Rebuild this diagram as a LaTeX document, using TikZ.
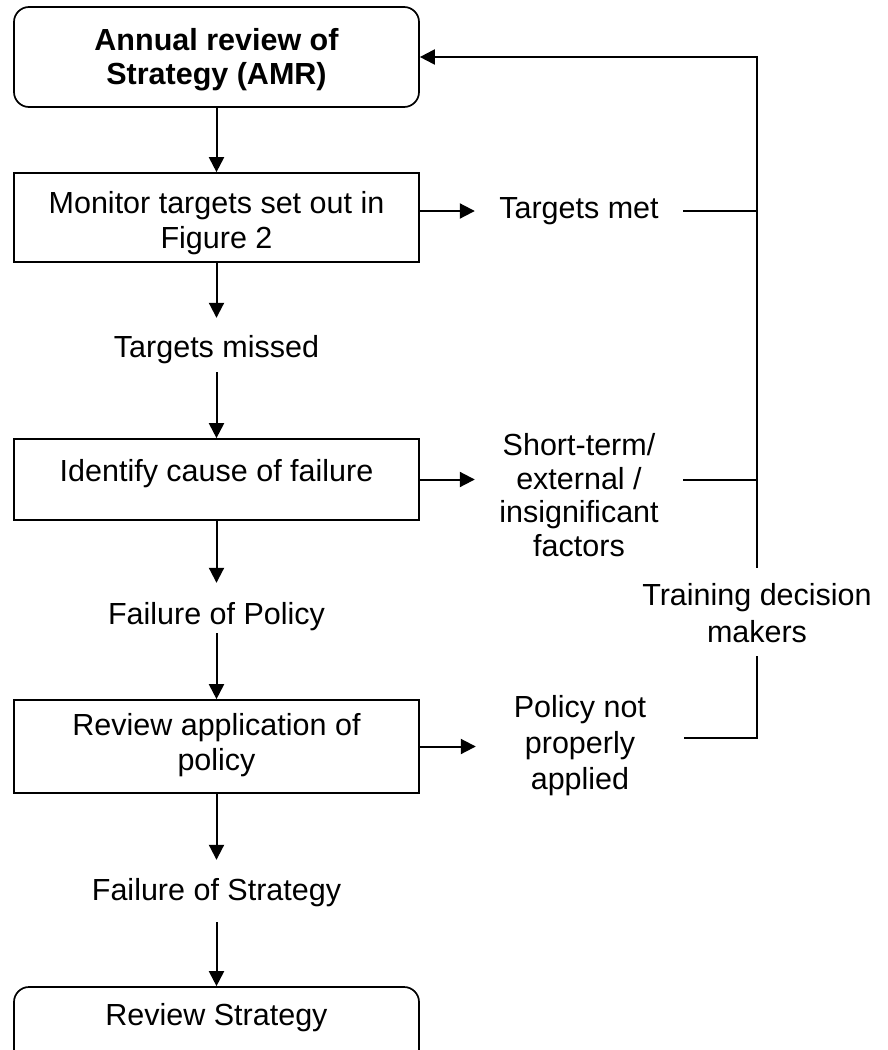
\documentclass[tikz,border=0pt]{standalone}
\usepackage{fontspec}
\setmainfont{Liberation Sans}
\usetikzlibrary{arrows.meta}
\newcommand\firststrut[1]{\rule{0pt}{#1}}
\newcommand\laststrut[1]{\rule[-#1]{0pt}{0pt}}
\begin{document}
\begin{tikzpicture}[x=1pt,y=-1pt,
  every node/.style={font=\fontsize{30.5pt}{35pt}\selectfont, align=center, inner sep=0pt},
  flowbox/.style={draw, line width=1.7pt, minimum width=405pt},
  roundbox/.style={flowbox, rounded corners=15pt},
  labeltext/.style={minimum width=208pt},
  conn/.style={line width=2pt},
  arr/.style={conn, -{Triangle[length=15pt,width=15pt]}}]
\clip (0,0) rectangle (888,1050);
% left column
\node[roundbox, minimum height=100pt, font=\fontsize{30.5pt}{35pt}\selectfont\bfseries] (amr) at (216.5,57)
  {\firststrut{28pt}Annual review of\\[-1pt]Strategy (AMR)\laststrut{7pt}};
\node[flowbox, minimum height=89pt] (mon) at (216.5,217.5)
  {\firststrut{34pt}Monitor targets set out in\\Figure 2\laststrut{7pt}};
\node[anchor=base, text height=39pt, text depth=15pt] (missed) at (216.5,357) {Targets missed};
\node[flowbox, anchor=base, text height=42pt, text depth=39pt] (ident) at (216.5,481) {Identify cause of failure};
\node[anchor=base, text height=41pt, text depth=9pt] (fpol) at (216.5,624) {Failure of Policy};
\node[flowbox, minimum height=93pt] (rev) at (216.5,746.5)
  {\firststrut{24pt}Review application of\\policy\laststrut{12pt}};
\node[anchor=base, text height=40pt, text depth=22pt] (fstr) at (216.5,900) {Failure of Strategy};
\node[roundbox, anchor=base, text height=38pt, text depth=62pt] (rs) at (216.5,1025) {Review Strategy};
% right column
\node[labeltext, anchor=base, text height=22pt, text depth=7pt] (met) at (579,218.5) {Targets met};
\node[labeltext] (short) at (579,495.75)
  {\firststrut{30pt}Short-term/\\[-1.5pt]external /\\[-1.5pt]insignificant\\[-1.5pt]factors\laststrut{10pt}};
\node[labeltext] (pol) at (580,738)
  {\firststrut{38pt}Policy not\\[1pt]properly\\[1pt]applied\laststrut{8pt}};
\node (train) at (757,611.65)
  {\firststrut{37pt}Training decision\\[2pt]makers\laststrut{13.3pt}};
% connectors
\draw[arr] (amr) -- (mon);
\draw[arr] (mon) -- (missed);
\draw[arr] (missed) -- (ident);
\draw[arr] (ident) -- (fpol);
\draw[arr] (fpol) -- (rev);
\draw[arr] (rev) -- (fstr);
\draw[arr] (fstr) -- (rs);
\draw[arr] (mon.east |- met) -- (met.west);
\draw[conn] (met.east) -- (met.east -| train.north);
\draw[arr] (ident.east) -- (ident.east -| short.west);
\draw[conn] (ident.east -| short.east) -- (ident.east -| train.north);
\draw[arr] (rev.east) -- (rev.east -| pol.west);
\draw[conn] (pol.east) -- (pol.east -| train.south) -- (train.south);
\draw[arr] (train.north) |- (amr.east);
\end{tikzpicture}
\end{document}
